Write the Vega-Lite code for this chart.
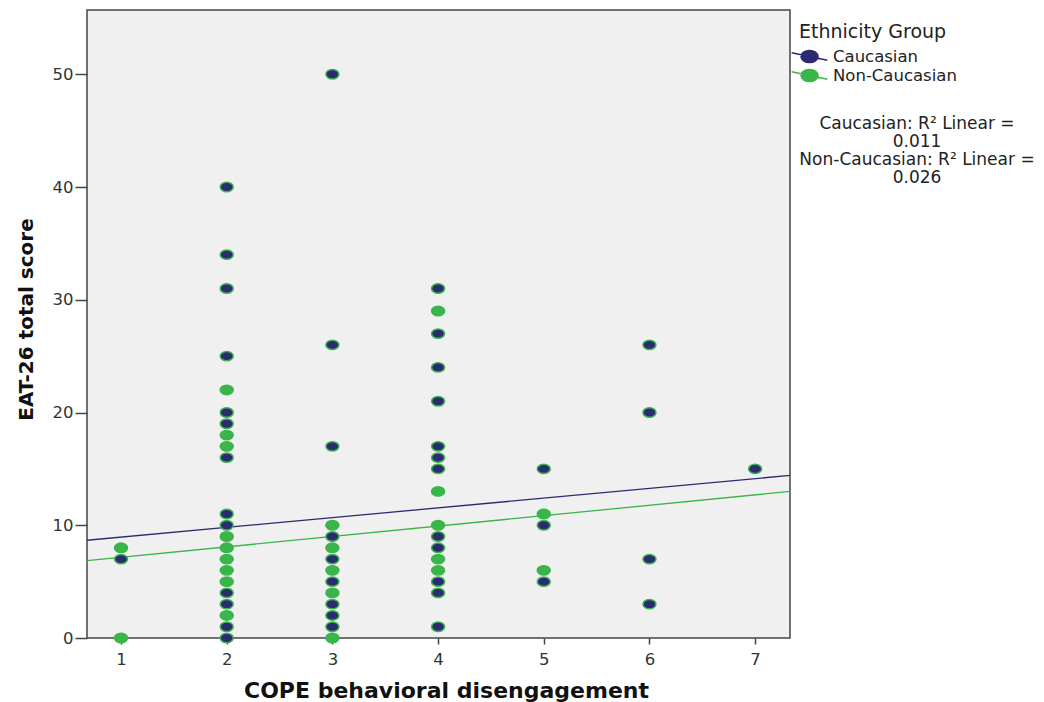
{
  "$schema": "https://vega.github.io/schema/vega-lite/v6.json",
  "width": 703,
  "height": 628,
  "autosize": {"type": "none"},
  "padding": {"left": 87, "top": 10, "right": 254, "bottom": 64},
  "background": "#ffffff",
  "config": {
    "font": "DejaVu Sans",
    "view": {"fill": "#f0f0f0", "stroke": "#444444", "strokeWidth": 1.5},
    "axis": {
      "grid": false,
      "domain": false,
      "tickColor": "#444444",
      "tickWidth": 1.5,
      "labelFont": "DejaVu Sans",
      "labelFontSize": 16.5,
      "labelColor": "#333333",
      "titleFont": "DejaVu Sans",
      "titleFontWeight": "bold",
      "titleColor": "#111111"
    },
    "legend": {"padding": 0}
  },
  "datasets": {
    "points": [
      {"cope": 1, "eat": 7, "group": "Caucasian"},
      {"cope": 2, "eat": 40, "group": "Caucasian"},
      {"cope": 2, "eat": 34, "group": "Caucasian"},
      {"cope": 2, "eat": 31, "group": "Caucasian"},
      {"cope": 2, "eat": 25, "group": "Caucasian"},
      {"cope": 2, "eat": 20, "group": "Caucasian"},
      {"cope": 2, "eat": 19, "group": "Caucasian"},
      {"cope": 2, "eat": 16, "group": "Caucasian"},
      {"cope": 2, "eat": 11, "group": "Caucasian"},
      {"cope": 2, "eat": 10, "group": "Caucasian"},
      {"cope": 2, "eat": 4, "group": "Caucasian"},
      {"cope": 2, "eat": 3, "group": "Caucasian"},
      {"cope": 2, "eat": 1, "group": "Caucasian"},
      {"cope": 2, "eat": 0, "group": "Caucasian"},
      {"cope": 3, "eat": 50, "group": "Caucasian"},
      {"cope": 3, "eat": 26, "group": "Caucasian"},
      {"cope": 3, "eat": 17, "group": "Caucasian"},
      {"cope": 3, "eat": 9, "group": "Caucasian"},
      {"cope": 3, "eat": 7, "group": "Caucasian"},
      {"cope": 3, "eat": 5, "group": "Caucasian"},
      {"cope": 3, "eat": 3, "group": "Caucasian"},
      {"cope": 3, "eat": 2, "group": "Caucasian"},
      {"cope": 3, "eat": 1, "group": "Caucasian"},
      {"cope": 4, "eat": 31, "group": "Caucasian"},
      {"cope": 4, "eat": 27, "group": "Caucasian"},
      {"cope": 4, "eat": 24, "group": "Caucasian"},
      {"cope": 4, "eat": 21, "group": "Caucasian"},
      {"cope": 4, "eat": 17, "group": "Caucasian"},
      {"cope": 4, "eat": 16, "group": "Caucasian"},
      {"cope": 4, "eat": 15, "group": "Caucasian"},
      {"cope": 4, "eat": 9, "group": "Caucasian"},
      {"cope": 4, "eat": 8, "group": "Caucasian"},
      {"cope": 4, "eat": 5, "group": "Caucasian"},
      {"cope": 4, "eat": 4, "group": "Caucasian"},
      {"cope": 4, "eat": 1, "group": "Caucasian"},
      {"cope": 5, "eat": 15, "group": "Caucasian"},
      {"cope": 5, "eat": 10, "group": "Caucasian"},
      {"cope": 5, "eat": 5, "group": "Caucasian"},
      {"cope": 6, "eat": 26, "group": "Caucasian"},
      {"cope": 6, "eat": 20, "group": "Caucasian"},
      {"cope": 6, "eat": 7, "group": "Caucasian"},
      {"cope": 6, "eat": 3, "group": "Caucasian"},
      {"cope": 7, "eat": 15, "group": "Caucasian"},
      {"cope": 1, "eat": 8, "group": "Non-Caucasian"},
      {"cope": 1, "eat": 0, "group": "Non-Caucasian"},
      {"cope": 2, "eat": 22, "group": "Non-Caucasian"},
      {"cope": 2, "eat": 18, "group": "Non-Caucasian"},
      {"cope": 2, "eat": 17, "group": "Non-Caucasian"},
      {"cope": 2, "eat": 9, "group": "Non-Caucasian"},
      {"cope": 2, "eat": 8, "group": "Non-Caucasian"},
      {"cope": 2, "eat": 7, "group": "Non-Caucasian"},
      {"cope": 2, "eat": 6, "group": "Non-Caucasian"},
      {"cope": 2, "eat": 5, "group": "Non-Caucasian"},
      {"cope": 2, "eat": 2, "group": "Non-Caucasian"},
      {"cope": 3, "eat": 10, "group": "Non-Caucasian"},
      {"cope": 3, "eat": 8, "group": "Non-Caucasian"},
      {"cope": 3, "eat": 6, "group": "Non-Caucasian"},
      {"cope": 3, "eat": 4, "group": "Non-Caucasian"},
      {"cope": 3, "eat": 0, "group": "Non-Caucasian"},
      {"cope": 4, "eat": 29, "group": "Non-Caucasian"},
      {"cope": 4, "eat": 13, "group": "Non-Caucasian"},
      {"cope": 4, "eat": 10, "group": "Non-Caucasian"},
      {"cope": 4, "eat": 7, "group": "Non-Caucasian"},
      {"cope": 4, "eat": 6, "group": "Non-Caucasian"},
      {"cope": 5, "eat": 11, "group": "Non-Caucasian"},
      {"cope": 5, "eat": 6, "group": "Non-Caucasian"}
    ],
    "fits": [
      {"cope": 0.678, "eat": 8.67, "group": "Caucasian"},
      {"cope": 7.33, "eat": 14.42, "group": "Caucasian"},
      {"cope": 0.678, "eat": 6.86, "group": "Non-Caucasian"},
      {"cope": 7.33, "eat": 13.0, "group": "Non-Caucasian"}
    ]
  },
  "encoding": {
    "x": {
      "field": "cope",
      "type": "quantitative",
      "scale": {"domain": [0.678, 7.33], "nice": false, "zero": false},
      "axis": {
        "title": "COPE behavioral disengagement",
        "values": [1, 2, 3, 4, 5, 6, 7],
        "tickSize": 6,
        "labelPadding": 7,
        "titleFontSize": 22,
        "titleX": 359,
        "titleY": 59,
        "titleBaseline": "alphabetic"
      }
    },
    "y": {
      "field": "eat",
      "type": "quantitative",
      "scale": {"domain": [0, 55.7], "nice": false},
      "axis": {
        "title": "EAT-26 total score",
        "values": [0, 10, 20, 30, 40, 50],
        "tickSize": 12,
        "labelPadding": 2,
        "titleFontSize": 20,
        "titleAngle": -90,
        "titleX": -55,
        "titleY": 309,
        "titleAlign": "center",
        "titleBaseline": "alphabetic"
      }
    },
    "color": {
      "field": "group",
      "type": "nominal",
      "scale": {"domain": ["Caucasian", "Non-Caucasian"], "range": ["#2b2a72", "#3ab54a"]},
      "legend": {
        "title": "Ethnicity Group",
        "orient": "none",
        "legendX": 712,
        "legendY": 13,
        "titleFontSize": 19,
        "titleFontWeight": "normal",
        "titleColor": "#222222",
        "titlePadding": 5,
        "labelFontSize": 16.5,
        "labelColor": "#222222",
        "labelOffset": 14,
        "symbolType": "M-2.1,-0.45L2.1,0.45M-1,0A1,0.72 0 1,1 1,0A1,0.72 0 1,1 -1,0Z",
        "symbolSize": 289,
        "symbolOffset": 1,
        "symbolStrokeColor": "#3ab54a",
        "symbolStrokeWidth": 1.5,
        "symbolOpacity": 1,
        "rowPadding": 0
      }
    }
  },
  "layer": [
    {
      "data": {"name": "fits"},
      "mark": {"type": "line", "strokeWidth": 1.3, "clip": true},
      "encoding": {
        "opacity": {
          "field": "group",
          "type": "nominal",
          "scale": {"range": [1, 1]},
          "legend": {
            "title": ["Caucasian: R² Linear =", "0.011", "Non-Caucasian: R² Linear =", "0.026"],
            "orient": "none",
            "legendX": 712,
            "legendY": 106,
            "titleFontSize": 17,
            "titleFontWeight": "normal",
            "titleColor": "#222222",
            "titleAlign": "center",
            "titleLimit": 400,
            "titleLineHeight": 18,
            "labelExpr": "''",
            "symbolSize": 0,
            "symbolStrokeWidth": 0,
            "symbolOpacity": 0
          }
        }
      }
    },
    {
      "data": {"name": "points"},
      "mark": {
        "type": "point",
        "filled": true,
        "opacity": 1,
        "shape": "M-1,0A1,0.72 0 1,1 1,0A1,0.72 0 1,1 -1,0Z",
        "size": 169,
        "stroke": "#3ab54a",
        "strokeWidth": 1.5
      }
    }
  ]
}
